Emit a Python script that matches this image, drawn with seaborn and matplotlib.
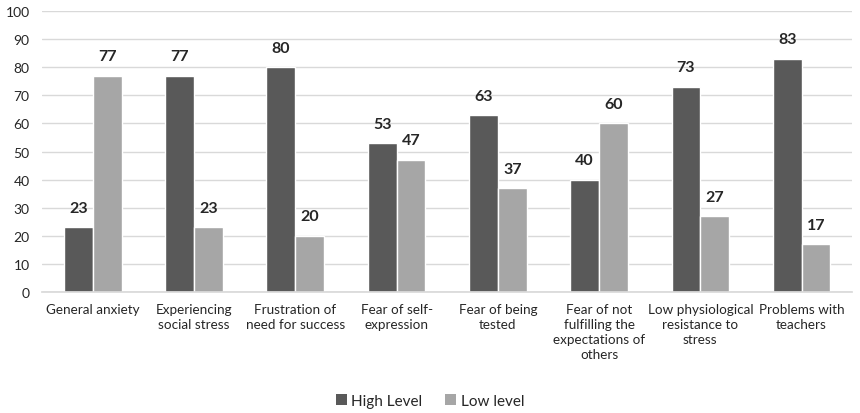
import matplotlib
matplotlib.use("Agg")
import matplotlib.pyplot as plt
import seaborn as sns
import pandas as pd
from matplotlib.patches import Patch

categories = [
    "General anxiety",
    "Experiencing\nsocial stress",
    "Frustration of\nneed for success",
    "Fear of self-\nexpression",
    "Fear of being\ntested",
    "Fear of not\nfulfilling the\nexpectations of\nothers",
    "Low physiological\nresistance to\nstress",
    "Problems with\nteachers",
]
high_level = [23, 77, 80, 53, 63, 40, 73, 83]
low_level = [77, 23, 20, 47, 37, 60, 27, 17]
series_names = ["High Level", "Low level"]
colors = ["#595959", "#a6a6a6"]

df = pd.DataFrame({
    "category": categories * 2,
    "value": high_level + low_level,
    "series": [series_names[0]] * len(categories) + [series_names[1]] * len(categories),
})

sns.set_theme(style="white")
plt.rcParams["font.family"] = ["Lato", "DejaVu Sans"]

fig = plt.figure(figsize=(8.6, 4.14), dpi=100)
ax = fig.add_axes([0.049, 0.292, 0.942, 0.679])

sns.barplot(data=df, x="category", y="value", hue="series", palette=colors,
            width=0.57, saturation=1, ax=ax, legend=False, errorbar=None)

ax.set_ylim(0, 100)
ax.set_yticks(range(0, 101, 10))
ax.set_xlim(-0.5, len(categories) - 0.5)
ax.yaxis.grid(True, color="#d9d9d9", linewidth=1)
ax.set_axisbelow(True)
for s in ["top", "right", "left"]:
    ax.spines[s].set_visible(False)
ax.spines["bottom"].set_color("#d9d9d9")
ax.set_xlabel("")
ax.set_ylabel("")
ax.tick_params(axis="x", length=0, labelsize=9.7, colors="#262626", pad=8)
ax.tick_params(axis="y", length=0, labelsize=10, colors="#262626", pad=9)
for lbl in ax.get_xticklabels():
    lbl.set_linespacing(1.3)

for cont in ax.containers:
    ax.bar_label(cont, fmt="%d", padding=9, fontsize=11.5, fontweight="bold", color="#262626")

handles = [Patch(facecolor=c, edgecolor="none") for c in colors]
fig.legend(handles, series_names, loc="center", bbox_to_anchor=(0.5, 0.03), ncol=2,
           frameon=False, fontsize=11, handlelength=0.7, handleheight=0.7,
           handletextpad=0.3, columnspacing=1.5, labelcolor="#262626")

fig.savefig("out.png", dpi=100)
